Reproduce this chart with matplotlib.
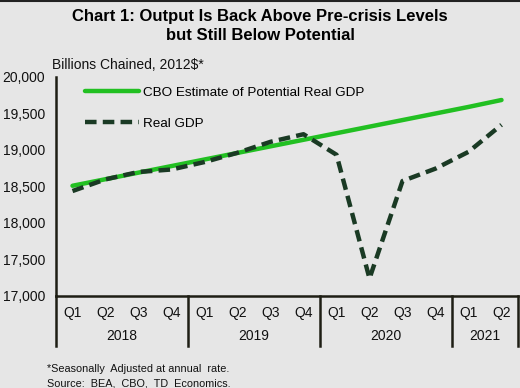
import matplotlib
matplotlib.use("Agg")
import matplotlib.pyplot as plt
from matplotlib.lines import Line2D

plt.rcParams['font.family'] = ['Liberation Sans', 'DejaVu Sans']

quarters = ["Q1", "Q2", "Q3", "Q4"] * 3 + ["Q1", "Q2"]
years = ["2018", "2019", "2020", "2021"]
year_counts = [4, 4, 4, 2]
potential_gdp = [18510, 18600, 18690, 18780, 18870, 18960, 19050, 19140,
                 19230, 19320, 19410, 19500, 19590, 19685]
real_gdp = [18438, 18598, 18699, 18733, 18835, 18962, 19112, 19216,
            18935, 17240, 18575, 18745, 18975, 19345]
yticks = [17000, 17500, 18000, 18500, 19000, 19500, 20000]

bg = "#e6e6e6"
dark = "#1e1e14"
green = "#22c022"
dgreen = "#1a3a24"

fig = plt.figure(figsize=(5.2, 3.88), dpi=100, facecolor=bg)
ax = fig.add_axes([56/520, 1-296/388, (518-56)/520, (296-77)/388])
ax.set_facecolor(bg)

x = list(range(len(quarters)))
ax.plot(x, potential_gdp, color=green, lw=3.2, solid_capstyle='round',
        label="CBO Estimate of Potential Real GDP")
ax.plot(x, real_gdp, color=dgreen, lw=3.2, dashes=(2.6, 1.4),
        label="Real GDP")

ax.set_xlim(-0.5, len(quarters) - 0.5)
ax.set_ylim(17000, 20000)
ax.set_yticks(yticks)
ax.set_yticklabels([f"{v:,}" for v in yticks], fontsize=10, color="#111111")
ax.tick_params(axis='y', length=0, pad=8)
ax.set_xticks([])

for s in ['top', 'right']:
    ax.spines[s].set_visible(False)
ax.spines['left'].set_color(dark)
ax.spines['left'].set_linewidth(1.8)
ax.spines['bottom'].set_color(dark)
ax.spines['bottom'].set_linewidth(1.8)

trans = ax.get_xaxis_transform()
for i, q in enumerate(quarters):
    ax.text(i, -0.078, q, transform=trans, ha='center', va='center',
            fontsize=10, color="#111111")

bottom_y = -0.228
ax.plot([-0.5, -0.5], [0, bottom_y], transform=trans, color=dark, lw=1.8,
        clip_on=False)
start = -0.5
for yr, n in zip(years, year_counts):
    end = start + n
    ax.text((start + end) / 2, -0.183, yr, transform=trans, ha='center',
            va='center', fontsize=10, color="#111111")
    ax.plot([end, end], [0, bottom_y], transform=trans, color=dark, lw=1.8,
            clip_on=False)
    start = end

fig.text(52/520, 1-65/388, "Billions Chained, 2012$*", fontsize=10,
         ha='left', va='center', color="#111111")

fig.text(0.5, 1-17/388, "Chart 1: Output Is Back Above Pre-crisis Levels",
         fontsize=12, fontweight='bold', ha='center', va='center')
fig.text(0.5, 1-36/388, "but Still Below Potential",
         fontsize=12, fontweight='bold', ha='center', va='center')

leg = ax.legend(loc='upper left', bbox_to_anchor=(0.062, 0.958), frameon=False,
                fontsize=9.7, handlelength=4.0, handletextpad=0.35,
                labelspacing=1.4, borderaxespad=0, borderpad=0)

fig.text(47/520, 1-369/388, "*Seasonally  Adjusted at annual  rate.",
         fontsize=7.8, ha='left', va='center', color="#111111")
fig.text(47/520, 1-383/388, "Source:  BEA,  CBO,  TD  Economics.",
         fontsize=7.8, ha='left', va='center', color="#111111")

fig.add_artist(Line2D([0, 1], [0.998, 0.998], color="#222222", lw=1.5,
                      transform=fig.transFigure))

fig.savefig("out.png", dpi=100, facecolor=bg)
